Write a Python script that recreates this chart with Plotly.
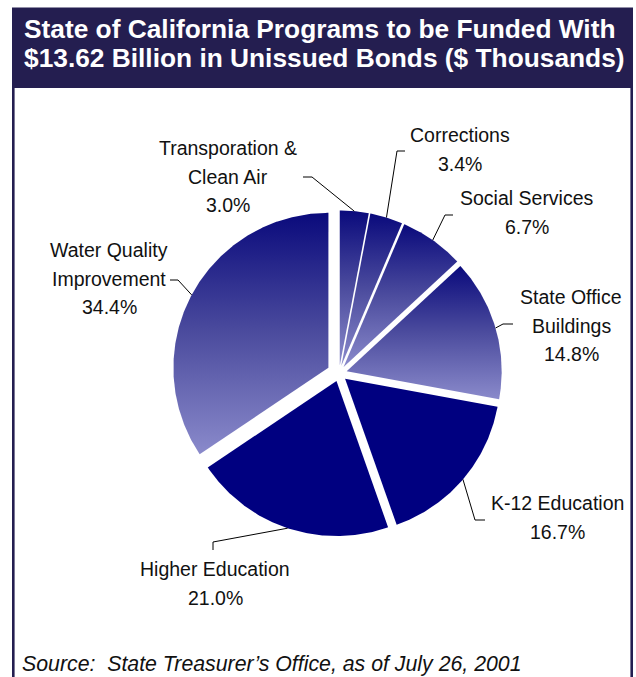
import numpy as np
import plotly.graph_objects as go

# Program categories (clockwise from 12 o'clock) and their share of unissued bonds (%)
categories = [
    "Transporation &<br>Clean Air",
    "Corrections",
    "Social Services",
    "State Office<br>Buildings",
    "K-12 Education",
    "Higher Education",
    "Water Quality<br>Improvement",
]
shares = [3.0, 3.4, 6.7, 14.8, 16.7, 21.0, 34.4]

title_lines = [
    "State of California Programs to be Funded With",
    "$13.62 Billion in Unissued Bonds ($ Thousands)",
]
source_note = "Source:  State Treasurer\u2019s Office, as of July 26, 2001"

# ---- layout constants (pixel space, y measured from the top) ----
W, H = 636, 677
CX, CY, R = 339.0, 373.5, 155.0
PULL = [8, 8, 8, 8, 8, 8, 12]                 # explode distance per slice
FILL = ["grad", "grad", "grad", "grad", "solid", "solid", "grad"]
NAVY = "#000080"
FRAME = "#241e50"
GRAD = [[0.0, "#8a8acb"], [0.5, "#4c4c9e"], [1.0, "#0a0a7c"]]
# label anchor (centre of first text line) and elbow of each leader line
LABEL_XY = [(228, 148), (460, 135), (527, 198), (571, 297), (557, 503), (215, 569), (109, 250)]
LEADER = [
    [(303, 177), (312, 177)],
    [(405, 151), (397, 151)],
    [(453, 215), (445, 215)],
    [(513, 324), (503, 324)],
    [(485, 520), (475, 520)],
    [(213, 550), (213, 542)],
    [(170, 280), (178, 280)],
]
LINE_GAP = 28.5
FONT = "Liberation Sans, Arial, sans-serif"


def Y(py):
    return H - py


fig = go.Figure()

total = sum(shares)
start = 0.0
for i, (cat, val) in enumerate(zip(categories, shares)):
    a0 = start / total * 2 * np.pi
    a1 = (start + val) / total * 2 * np.pi
    start += val
    mid = (a0 + a1) / 2
    dx, dy = PULL[i] * np.sin(mid), PULL[i] * np.cos(mid)
    ax, ay = CX + dx, Y(CY) + dy
    t = np.linspace(a0, a1, max(12, int(np.degrees(a1 - a0) * 2)))
    xs = np.concatenate([[ax], ax + R * np.sin(t), [ax]])
    ys = np.concatenate([[ay], ay + R * np.cos(t), [ay]])
    kw = dict(fillcolor=NAVY) if FILL[i] == "solid" else dict(
        fillgradient=dict(type="vertical", colorscale=GRAD))
    fig.add_trace(go.Scatter(
        x=xs, y=ys, mode="lines", fill="toself",
        line=dict(width=0, color="rgba(0,0,0,0)"),
        hoverinfo="skip", showlegend=False, **kw))

    # leader line: label elbow -> outer arc at the slice bisector
    ex = CX + (R + PULL[i]) * np.sin(mid)
    ey = Y(CY) + (R + PULL[i]) * np.cos(mid)
    pts = LEADER[i]
    fig.add_trace(go.Scatter(
        x=[pts[0][0], pts[1][0], ex], y=[Y(pts[0][1]), Y(pts[1][1]), ey],
        mode="lines", line=dict(color="#000000", width=1),
        hoverinfo="skip", showlegend=False))

    # label text, one annotation per line
    lines = cat.split("<br>") + [f"{val:.1f}%"]
    lx, ly = LABEL_XY[i]
    for k, txt in enumerate(lines):
        fig.add_annotation(
            x=lx, y=Y(ly + k * LINE_GAP), xref="x", yref="y", text=txt,
            showarrow=False, xanchor="center", yanchor="middle",
            font=dict(family=FONT, size=19.5, color="#111111"))

# title banner and side rules of the frame
fig.add_shape(type="rect", xref="x", yref="y", x0=12, x1=633, y0=Y(88), y1=Y(7.5),
              fillcolor=FRAME, line=dict(width=0), layer="below")
for fx in (13.3, 631.7):
    fig.add_shape(type="line", xref="x", yref="y", x0=fx, x1=fx, y0=Y(88), y1=Y(H + 2),
                  line=dict(color=FRAME, width=2.6))

for k, txt in enumerate(title_lines):
    fig.add_annotation(
        x=22, y=Y(29 + k * 28.5), xref="x", yref="y", text=f"<b>{txt}</b>",
        showarrow=False, xanchor="left", yanchor="middle",
        font=dict(family=FONT, size=26.3, color="#ffffff"))

fig.add_annotation(
    x=20, y=Y(664), xref="x", yref="y", text=f"<i>{source_note}</i>",
    showarrow=False, xanchor="left", yanchor="middle",
    font=dict(family=FONT, size=21.3, color="#111111"))

fig.update_layout(
    width=W, height=H, margin=dict(l=0, r=0, t=0, b=0),
    paper_bgcolor="#ffffff", plot_bgcolor="#ffffff",
    xaxis=dict(range=[0, W], visible=False, fixedrange=True),
    yaxis=dict(range=[0, H], visible=False, fixedrange=True),
    showlegend=False,
)

fig.write_html("out.html")
